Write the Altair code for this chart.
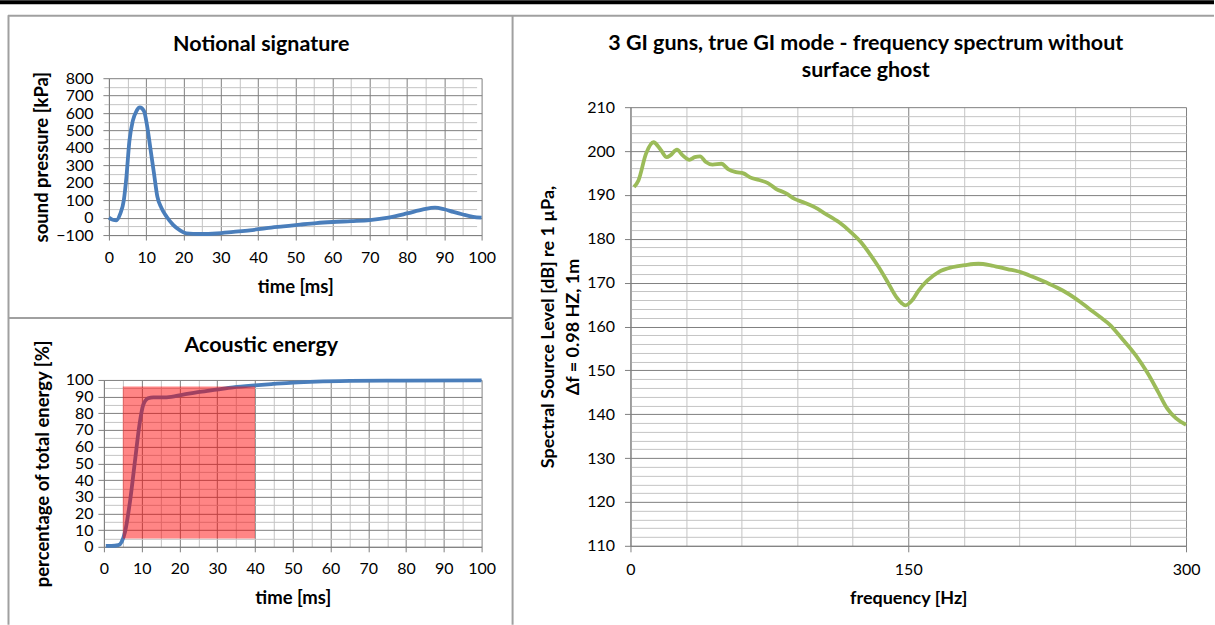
import altair as alt
import pandas as pd

# ---- Notional signature: time [ms] vs sound pressure [kPa]
sig_time = [0, 1, 2, 3, 4, 4.7, 5.5, 6.4, 7.4, 8.3, 9.4, 10.3, 11.2, 12.1, 13,
            14.1, 15.5, 17.3, 19, 20.8, 24.4, 28.9, 33.4, 37.8, 42.3, 46.8,
            51.3, 55.7, 60, 65, 70, 75, 80, 84.3, 87.5, 90, 92.4, 95, 97.7, 100]
sig_pressure = [0, -12, -15, 20, 100, 234, 440, 555, 612, 632, 612, 520, 386,
                253, 120, 55, 5, -43, -72, -90, -94, -91, -82, -73, -60, -50,
                -40, -31, -25, -20, -14, 0, 24, 47, 58, 48, 33, 18, 5, 0]

# ---- Acoustic energy: cumulative share of total energy [%]
en_time = [0.5, 2, 3.8, 4.7, 5.6, 6.9, 8.2, 9.4, 10.4, 11.7, 13.1, 16.6, 21,
           25.4, 29.8, 34.2, 40, 44.8, 50.1, 56.3, 65.1, 78.4, 100]
en_percent = [0.5, 0.5, 1, 3, 9, 27, 51, 73, 85, 89, 89.6, 89.6, 91.2, 92.8,
              94.2, 95.6, 96.8, 97.6, 98.4, 99, 99.4, 99.6, 99.8]
# highlighted window (5 % .. 96 % of the energy, 5 .. 40 ms)
win_time = [5, 40]
win_percent = [5, 96]

# ---- Frequency spectrum without surface ghost
freq = [1.9, 4.3, 8.4, 12.4, 16.3, 19.6, 21.5, 25.1, 28.2, 31.8,
        34.7, 37.6, 40.7, 44.3, 49.1, 52.7, 57, 61, 64.6, 69.4,
        74.2, 78.5, 83.8, 88.6, 93.4, 99.4, 105.3, 112.5, 118.5, 124.5,
        129.3, 134.1, 138.9, 143.6, 146.5, 148.5, 152, 155.6, 160.4, 166.4,
        173.6, 180.7, 187.9, 195.1, 203.5, 210.7, 217.9, 226.2, 233.4, 240.6,
        247.8, 253.8, 258.6, 265.7, 272.9, 278.9, 284.9, 289.7, 294.5, 300]
level = [191.8, 193.3, 199.4, 202.0, 200.3, 198.6, 199.0, 200.3, 199.0, 198.0,
         198.6, 198.8, 197.5, 196.9, 197.1, 195.9, 195.2, 194.9, 194.0, 193.4,
         192.7, 191.4, 190.4, 189.1, 188.3, 187.2, 185.7, 183.8, 181.7, 179.2,
         176.5, 173.5, 170.1, 166.7, 165.3, 164.8, 165.9, 168.2, 170.5, 172.4,
         173.5, 174.0, 174.3, 173.9, 173.1, 172.4, 171.2, 169.7, 168.2, 166.3,
         164.0, 162.1, 160.5, 157.1, 153.4, 149.6, 145.1, 141.4, 139.1, 137.6]

FONT = "Lato"
GRID_MAJOR = "#7f7f7f"
GRID_MINOR = "#c4c4c4"
AXIS_GRAY = "#7f7f7f"
FRAME_GRAY = "#a0a0a0"
BLUE = "#4a7ebb"
GREEN = "#9bbb59"


def minor_axis(orient, values, title=None, title_x=0, title_y=0):
    """Light grid lines; the top one also carries the panel heading."""
    if title is not None:
        kw = dict(title=title, titleX=title_x, titleY=title_y, titleAngle=0,
                  titleAlign="center", titleBaseline="alphabetic",
                  titleFont=FONT, titleFontSize=21.5, titleFontWeight="bold",
                  titleColor="black", titleLineHeight=27)
    else:
        kw = dict(title=None)
    return alt.Axis(orient=orient, values=values, grid=True, gridColor=GRID_MINOR,
                    gridWidth=1, labels=False, ticks=False, domain=False, **kw)


def main_axis(values, title, tick_size, label_pad, title_pad, offset=0,
              title_size=18.5, line_height=24):
    return alt.Axis(values=values, grid=True, gridColor=GRID_MAJOR, gridWidth=1,
                    domainColor=AXIS_GRAY, tickColor=AXIS_GRAY, tickSize=tick_size,
                    labelPadding=label_pad, labelFont=FONT, labelFontSize=16,
                    labelColor="black", title=title, titleFont=FONT,
                    titleFontSize=title_size, titleFontWeight="bold",
                    titleColor="black", titlePadding=title_pad,
                    titleLineHeight=line_height, offset=offset,
                    labelFlush=False, labelOverlap=False)


# ------------------------------------------------------------ panel A
sig = pd.DataFrame({"t": sig_time, "p": sig_pressure})
xA = alt.Scale(domain=[0, 100], range=[5, 378], nice=False, zero=False)
yA = alt.Scale(domain=[-100, 800], nice=False, zero=False)

a_minor = alt.Chart(sig).mark_line(opacity=0).encode(
    x=alt.X("t:Q", scale=xA,
            axis=minor_axis("top", list(range(5, 100, 10)),
                            "Notional signature", 157, -28)),
    y=alt.Y("p:Q", scale=yA, axis=minor_axis("right", list(range(-50, 800, 100)))),
)
a_line = alt.Chart(sig).mark_line(color=BLUE, strokeWidth=3.8,
                                  interpolate="monotone").encode(
    x=alt.X("t:Q", scale=xA,
            axis=main_axis(list(range(0, 101, 10)), "time [ms]", 5, 9, 12)),
    y=alt.Y("p:Q", scale=yA,
            axis=main_axis(list(range(-100, 801, 100)), "sound pressure [kPa]",
                           6, 10, 4, offset=-5)),
)

# page frame, drawn relative to this panel's plot origin
one = pd.DataFrame({"k": [0]})
top_bar = alt.Chart(one).mark_rect(color="black").encode(
    x=alt.value(-104), x2=alt.value(1111), y=alt.value(-78), y2=alt.value(-74))
frame_top = alt.Chart(one).mark_rule(color=FRAME_GRAY, strokeWidth=2).encode(
    x=alt.value(-96), x2=alt.value(1111), y=alt.value(-62.5))
frame_left = alt.Chart(one).mark_rule(color=FRAME_GRAY, strokeWidth=2).encode(
    x=alt.value(-95.5), y=alt.value(-63), y2=alt.value(547))
frame_mid = alt.Chart(one).mark_rule(color=FRAME_GRAY, strokeWidth=2).encode(
    x=alt.value(409), y=alt.value(-63), y2=alt.value(547))
frame_div = alt.Chart(one).mark_rule(color=FRAME_GRAY, strokeWidth=2).encode(
    x=alt.value(-96), x2=alt.value(409), y=alt.value(240))

panel_a = alt.layer(
    a_minor, a_line, top_bar, frame_top, frame_left, frame_mid, frame_div
).resolve_axis(x="independent", y="independent").properties(width=378, height=157)

# ------------------------------------------------------------ panel B
en = pd.DataFrame({"t": en_time, "e": en_percent})
win = pd.DataFrame({"t0": [win_time[0]], "t1": [win_time[1]],
                    "e0": [win_percent[0]], "e1": [win_percent[1]]})
xB = alt.Scale(domain=[0, 100], nice=False, zero=False)
yB = alt.Scale(domain=[0, 100], nice=False, zero=False)

b_minor = alt.Chart(en).mark_line(opacity=0).encode(
    x=alt.X("t:Q", scale=xB,
            axis=minor_axis("top", list(range(5, 100, 10)),
                            "Acoustic energy", 157, -28)),
    y=alt.Y("e:Q", scale=yB, axis=minor_axis("right", list(range(5, 100, 10)))),
)
b_line = alt.Chart(en).mark_line(color=BLUE, strokeWidth=3.8,
                                 interpolate="monotone").encode(
    x=alt.X("t:Q", scale=xB,
            axis=main_axis(list(range(0, 101, 10)), "time [ms]", 5, 9, 12)),
    y=alt.Y("e:Q", scale=yB,
            axis=main_axis(list(range(0, 101, 10)),
                           "percentage of total energy [%]", 6, 5, 13)),
)
b_win = alt.Chart(win).mark_rect(color="#ff0000", opacity=0.48).encode(
    x=alt.X("t0:Q", scale=xB, axis=None), x2="t1:Q",
    y=alt.Y("e0:Q", scale=yB, axis=None), y2="e1:Q")

panel_b = alt.layer(b_minor, b_line, b_win).resolve_axis(
    x="independent", y="independent").properties(width=378, height=167)

# ------------------------------------------------------------ panel C
spec = pd.DataFrame({"f": freq, "L": level})
xC = alt.Scale(domain=[0, 300], nice=False, zero=False)
yC = alt.Scale(domain=[110, 210], nice=False, zero=False)

c_minor = alt.Chart(spec).mark_line(opacity=0).encode(
    x=alt.X("f:Q", scale=xC,
            axis=minor_axis("top", [30, 60, 90, 120, 180, 210, 240, 270],
                            ["3 GI guns, true GI mode - frequency spectrum without",
                             "surface ghost"], 235, -58)),
    y=alt.Y("L:Q", scale=yC,
            axis=minor_axis("right", [v for v in range(112, 210, 2) if v % 10])),
)
c_line = alt.Chart(spec).mark_line(color=GREEN, strokeWidth=3.8,
                                   interpolate="monotone").encode(
    x=alt.X("f:Q", scale=xC,
            axis=main_axis([0, 150, 300], "frequency [Hz]", 6, 10, 12,
                           title_size=18)),
    y=alt.Y("L:Q", scale=yC,
            axis=main_axis(list(range(110, 211, 10)),
                           ["Spectral Source Level [dB] re 1 µPa,",
                            "Δf = 0.98 HZ, 1m"], 6, 10, 4,
                           title_size=18, line_height=25)),
)

panel_c = alt.layer(c_minor, c_line).resolve_axis(
    x="independent", y="independent").properties(width=556, height=439)

# empty cell that pushes the spectrum plot down below its two-line heading
spacer = alt.Chart(one).mark_point(opacity=0).encode(
    x=alt.value(0), y=alt.value(0)).properties(width=1, height=1)

# flush layout: cells are placed by their plot sizes only
left = alt.vconcat(panel_a, panel_b, spacing=145, bounds="flush")
right = alt.vconcat(spacer, panel_c, spacing=28, bounds="flush")
chart = alt.hconcat(left, right, spacing=527, bounds="flush").properties(
    padding=0, background="white"
).configure_view(strokeWidth=0)

chart.save("out.html", embed_options={"renderer": "svg", "actions": False})
